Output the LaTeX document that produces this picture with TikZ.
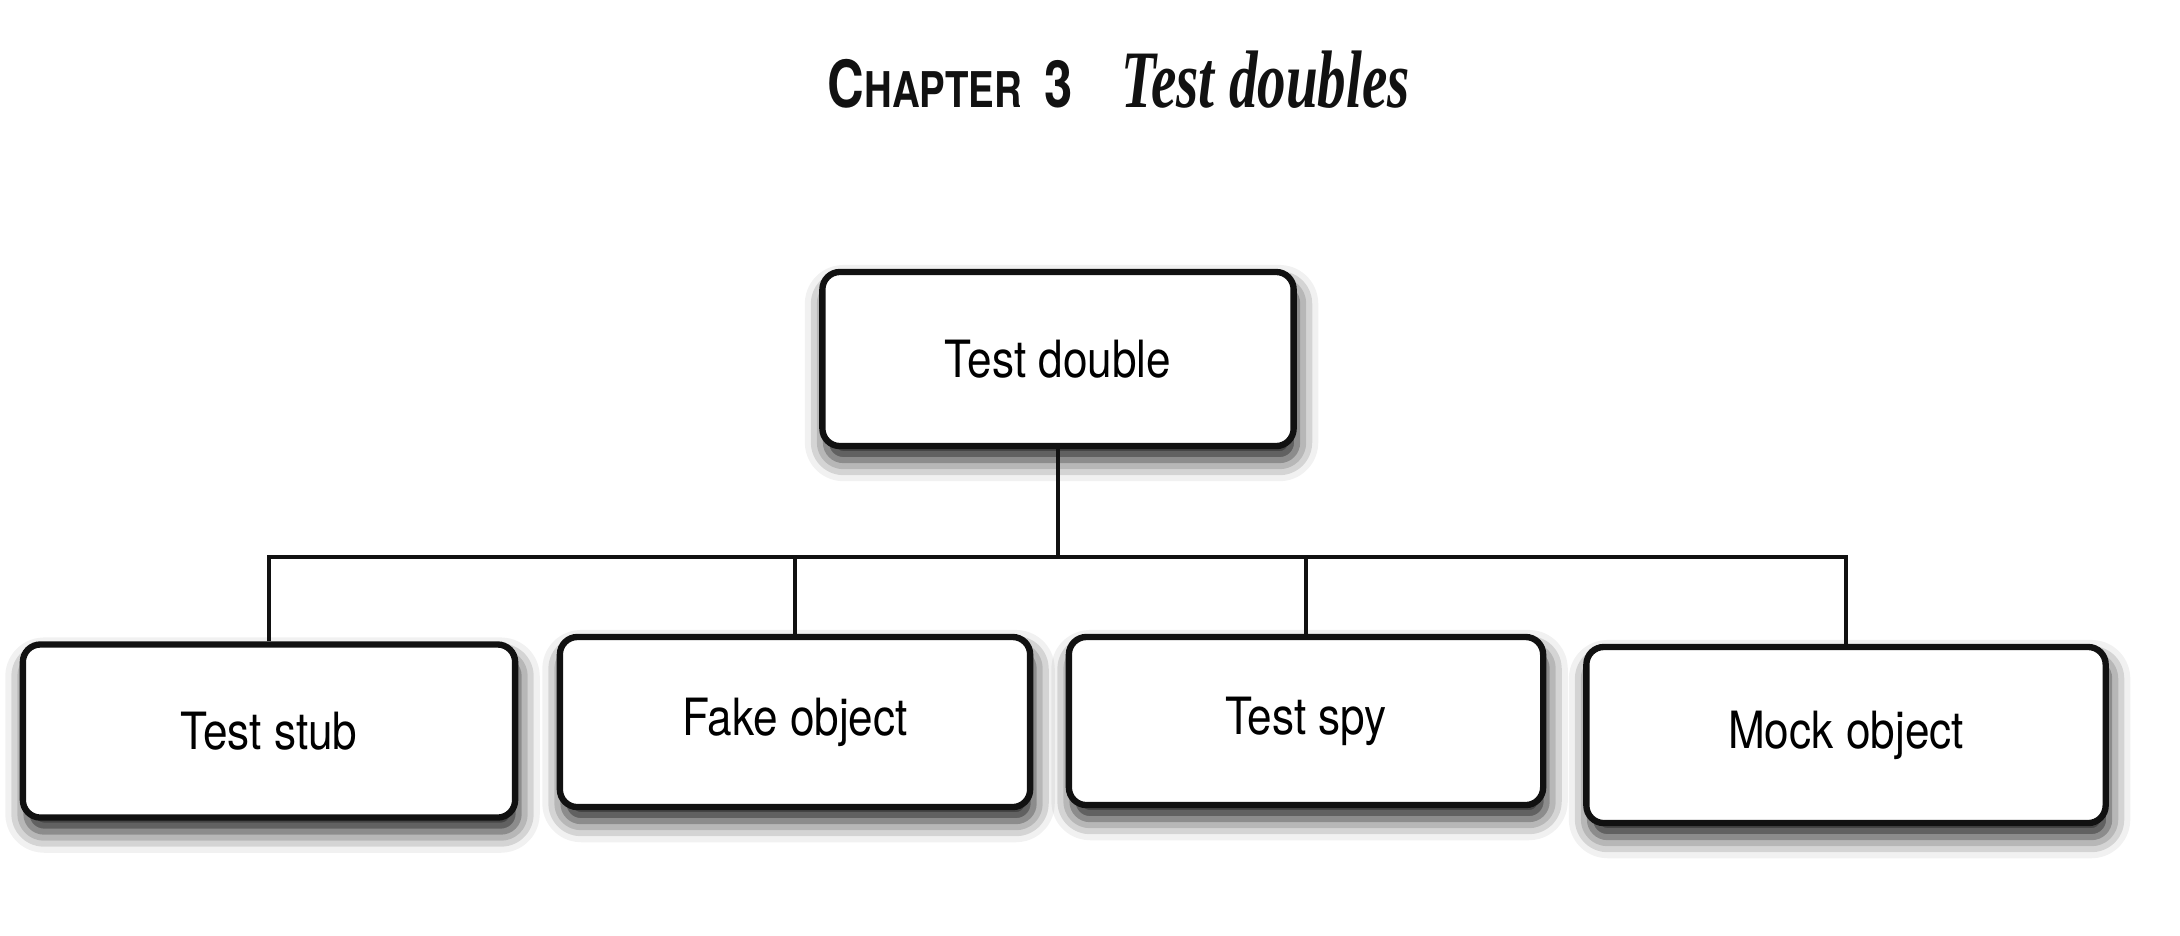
\documentclass[tikz,border=0pt]{standalone}
\usepackage{fontspec}
\usetikzlibrary{positioning,shadows.blur}
\setmainfont{TeX Gyre Heros}
\newfontfamily\labelfont[FakeStretch=0.86]{TeX Gyre Heros}
\newfontfamily\chapfont[FakeStretch=0.78]{TeX Gyre Heros}
\newfontfamily\titlefont[FakeStretch=0.7]{Liberation Serif}
\definecolor{Ink}{HTML}{111111}
\newcommand{\Lab}{\labelfont\fontsize{14.6}{17}\selectfont}
\tikzset{
  dbox/.style={draw=Ink, line width=1.8pt, fill=white, rounded corners=5pt,
               align=center, inner sep=0pt, font=\Lab,
               blur shadow={shadow xshift=1pt, shadow yshift=-4pt,
                            shadow blur radius=6pt, shadow opacity=90}},
  link/.style={draw=Ink, line width=1.3pt},
}

\begin{document}
\begin{tikzpicture}[x=0.01cm, y=-0.01cm]
  \useasboundingbox (0,0) rectangle (2180,935);
  % running head
  \node[anchor=base west, inner sep=0pt, text=Ink] (chap) at (827,107)
    {\chapfont\bfseries\fontsize{18.5}{20}\selectfont C\fontsize{14}{16}\selectfont HAPTER\hspace{0.45em}\fontsize{18.5}{20}\selectfont 3};
  \node[anchor=base west, inner sep=0pt, text=Ink] (title) at (1121,107)
    {\titlefont\bfseries\itshape\fontsize{23.2}{26}\selectfont Test doubles};
  % root and the four kinds
  \node[dbox, minimum width=4.71cm, minimum height=1.74cm] (double) at (1058,359) {Test double};
  \node[dbox, minimum width=4.92cm, minimum height=1.73cm] (stub) at (269,731) {Test stub};
  \node[dbox, minimum width=4.70cm, minimum height=1.70cm] (fake) at (795,722) {Fake object};
  \node[dbox, minimum width=4.74cm, minimum height=1.68cm] (spy) at (1306,721) {Test spy};
  \node[dbox, minimum width=5.19cm, minimum height=1.76cm] (mock) at (1846,735) {Mock object};
  \coordinate (bar) at (1058,557);
  \draw[link] (double) -- (bar);
  \draw[link] (stub.north) |- (bar) -| (mock.north);
  \draw[link] (fake.north) -- (fake.north |- bar);
  \draw[link] (spy.north) -- (spy.north |- bar);
\end{tikzpicture}
\end{document}
